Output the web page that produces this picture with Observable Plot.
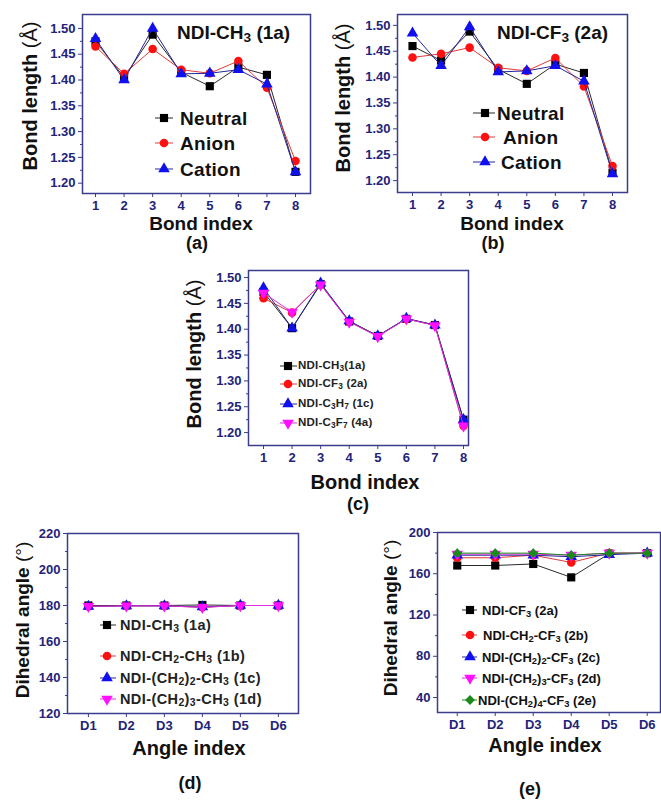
<!DOCTYPE html>
<html>
<head>
<meta charset="utf-8">
<script src="https://cdn.jsdelivr.net/npm/d3@7"></script>
<script src="https://cdn.jsdelivr.net/npm/@observablehq/plot@0.6"></script>
<style>
  html, body { margin: 0; padding: 0; background: #fff; }
  #fig { position: relative; width: 661px; height: 801px; overflow: hidden; background: #fff;
         font-family: "Liberation Sans", Arial, Helvetica, sans-serif; }
  #fig svg { overflow: visible; }
  .txt { position: absolute; white-space: nowrap; line-height: 1; font-weight: bold; color: #111; }
  .txt sub { font-size: 72%; vertical-align: -0.22em; line-height: 0; }
  .thin { font-weight: normal; }
</style>
</head>
<body>
<div id="fig"></div>
<script>
// ---- axes ----
const bondIndex = [1, 2, 3, 4, 5, 6, 7, 8];
const bondLabels = ["1", "2", "3", "4", "5", "6", "7", "8"];
const bondTicks = [1.20, 1.25, 1.30, 1.35, 1.40, 1.45, 1.50];
const bondMinor = [1.225, 1.275, 1.325, 1.375, 1.425, 1.475];
const angleIndex = [1, 2, 3, 4, 5, 6];
const angleLabels = ["D1", "D2", "D3", "D4", "D5", "D6"];
const angleTicksD = [120, 140, 160, 180, 200, 220];
const angleMinorD = [130, 150, 170, 190, 210];
const angleTicksE = [40, 80, 120, 160, 200];
const angleMinorE = [60, 100, 140, 180];

// ---- (a) NDI-CH3 (1a): bond lengths (Å) by charge state ----
const ch3Neutral = [1.475, 1.405, 1.488, 1.415, 1.388, 1.425, 1.410, 1.222];
const ch3Anion   = [1.465, 1.412, 1.460, 1.420, 1.413, 1.437, 1.385, 1.243];
const ch3Cation  = [1.480, 1.400, 1.500, 1.412, 1.413, 1.420, 1.392, 1.222];

// ---- (b) NDI-CF3 (2a): bond lengths (Å) by charge state ----
const cf3Neutral = [1.460, 1.432, 1.488, 1.415, 1.387, 1.425, 1.408, 1.215];
const cf3Anion   = [1.438, 1.445, 1.457, 1.418, 1.412, 1.437, 1.382, 1.228];
const cf3Cation  = [1.485, 1.422, 1.497, 1.410, 1.412, 1.422, 1.392, 1.213];

// ---- (c) neutral bond lengths (Å) for four derivatives ----
const bond1a = [1.472, 1.402, 1.487, 1.415, 1.387, 1.420, 1.408, 1.225];
const bond2a = [1.460, 1.432, 1.487, 1.415, 1.387, 1.420, 1.408, 1.213];
const bond1c = [1.480, 1.402, 1.489, 1.416, 1.387, 1.421, 1.408, 1.225];
const bond4a = [1.470, 1.433, 1.486, 1.414, 1.386, 1.420, 1.407, 1.213];

// ---- (d) dihedral angles (°), alkyl series ----
const dih1a = [180.0, 180.0, 180.0, 180.3, 180.0, 180.0];
const dih1b = [179.5, 179.8, 179.8, 179.0, 180.0, 180.0];
const dih1c = [179.5, 179.8, 179.8, 179.2, 180.0, 180.0];
const dih1d = [179.5, 179.8, 179.8, 179.0, 180.0, 180.0];

// ---- (e) dihedral angles (°), fluoroalkyl series ----
const dih2a = [168.0, 168.0, 169.5, 156.5, 179.5, 180.0];
const dih2b = [175.5, 175.5, 178.0, 171.0, 180.0, 180.0];
const dih2c = [178.0, 178.0, 178.0, 176.5, 178.5, 180.0];
const dih2d = [179.0, 179.0, 179.0, 178.0, 180.0, 180.0];
const dih2e = [180.0, 180.0, 180.0, 178.0, 180.0, 180.0];

// ---- legend labels ----
const chargeNames = ["Neutral", "Anion", "Cation"];
const namesC = ["NDI-CH<sub>3</sub>(1a)", "NDI-CF<sub>3</sub> (2a)", "NDI-C<sub>3</sub>H<sub>7</sub> (1c)", "NDI-C<sub>3</sub>F<sub>7</sub> (4a)"];
const namesD = ["NDI-CH<sub>3</sub> (1a)", "NDI-CH<sub>2</sub>-CH<sub>3</sub> (1b)",
                "NDI-(CH<sub>2</sub>)<sub>2</sub>-CH<sub>3</sub> (1c)", "NDI-(CH<sub>2</sub>)<sub>3</sub>-CH<sub>3</sub> (1d)"];
const namesE = ["NDI-CF<sub>3</sub> (2a)", "NDI-CH<sub>2</sub>-CF<sub>3</sub> (2b)",
                "NDI-(CH<sub>2</sub>)<sub>2</sub>-CF<sub>3</sub> (2c)", "NDI-(CH<sub>2</sub>)<sub>3</sub>-CF<sub>3</sub> (2d)",
                "NDI-(CH<sub>2</sub>)<sub>4</sub>-CF<sub>3</sub> (2e)"];

// ---- styling ----
const navy = "#3c3c8c";
const tickInk = "#23237a";
const triangleDown = {
  draw(context, size) {
    const y = -Math.sqrt(size / (Math.sqrt(3) * 3));
    context.moveTo(0, -y * 2);
    context.lineTo(-Math.sqrt(3) * y, y);
    context.lineTo(Math.sqrt(3) * y, y);
    context.closePath();
  }
};
const sBlack   = {color: "#000000", line: "#2a2a2a", symbol: d3.symbolSquare,   r: 4.6};
const sRed     = {color: "#ff1010", line: "#e03a3a", symbol: d3.symbolCircle,   r: 4.3};
const sBlue    = {color: "#1010ee", line: "#25259a", symbol: d3.symbolTriangle, r: 4.3};
const sMagenta = {color: "#ff10ff", line: "#e030e0", symbol: triangleDown,      r: 4.3};
const sGreen   = {color: "#1a8a1a", line: "#1a8a1a", symbol: d3.symbolDiamond2, r: 4.4};

const fig = document.getElementById("fig");

function panel(p) {
  const [x0, y0, x1, y1] = p.frame;
  const mL = 44, mR = 2, mT = 2, mB = 26;
  const axisText = {color: tickInk, stroke: navy, fontSize: 13, fontWeight: "bold", label: null, tickSize: 4, tickPadding: 3};
  const marks = [
    Plot.axisY({ticks: p.yMinor, tickSize: 2, tickFormat: () => "", label: null, stroke: navy}),
    Plot.axisY({...axisText, ticks: p.yTicks, tickFormat: p.yFormat}),
    Plot.axisX({...axisText, ticks: p.xValues, tickFormat: (d) => p.xLabels[p.xValues.indexOf(d)]})
  ];
  for (const s of p.series) {
    const rows = s.values.map((v, i) => ({x: p.xValues[i], y: v}));
    marks.push(Plot.line(rows, {x: "x", y: "y", stroke: s.style.line, strokeWidth: 1}));
    marks.push(Plot.dot(rows, {x: "x", y: "y", symbol: s.style.symbol, fill: s.style.color, r: s.style.r}));
  }
  marks.push(Plot.frame({stroke: navy, strokeWidth: 1.5}));
  const svg = Plot.plot({
    width: (x1 - x0) + mL + mR,
    height: (y1 - y0) + mT + mB,
    marginLeft: mL, marginRight: mR, marginTop: mT, marginBottom: mB,
    x: {domain: p.xDomain},
    y: {domain: p.yDomain},
    style: {fontFamily: '"Liberation Sans", Arial, sans-serif', background: "transparent", overflow: "visible"},
    marks
  });
  svg.style.position = "absolute";
  svg.style.left = (x0 - mL) + "px";
  svg.style.top = (y0 - mT) + "px";
  svg.style.maxWidth = "none";
  fig.appendChild(svg);
}

function text(html, x, y, {size = 20, anchor = "middle", rotate = false, color = "#111", weight = "bold", spacing = 0} = {}) {
  const div = document.createElement("div");
  div.className = "txt";
  div.innerHTML = html;
  div.style.left = x + "px";
  div.style.top = y + "px";
  div.style.fontSize = size + "px";
  div.style.color = color;
  div.style.fontWeight = weight;
  div.style.letterSpacing = spacing + "px";
  const tx = anchor === "middle" ? "-50%" : anchor === "end" ? "-100%" : "0";
  div.style.transform = `translate(${tx}, -50%)` + (rotate ? " rotate(-90deg)" : "");
  fig.appendChild(div);
}

function legend(items, {x1, x2, mx, size, color = "#111", spacing = 0}) {
  for (const it of items) {
    const w = x2 - x1 + 12;
    const svg = d3.create("svg")
      .attr("width", w).attr("height", 16)
      .style("position", "absolute")
      .style("left", (x1 - 6) + "px")
      .style("top", (it.y - 8) + "px");
    svg.append("line")
      .attr("x1", 6).attr("x2", w - 6).attr("y1", 8).attr("y2", 8)
      .attr("stroke", it.style.line).attr("stroke-width", 1);
    svg.append("path")
      .attr("transform", `translate(${(it.mx ?? mx) - x1 + 6},8)`)
      .attr("d", d3.symbol(it.style.symbol, Math.PI * it.style.r * it.style.r)())
      .attr("fill", it.style.color);
    fig.appendChild(svg.node());
    text(it.label, it.tx, it.y, {size, anchor: "start", color, spacing});
  }
}

// ---- (a) ----
panel({
  frame: [82, 14, 310, 193], xDomain: [0.545, 8.525], yDomain: [1.18, 1.527],
  xValues: bondIndex, xLabels: bondLabels, yTicks: bondTicks, yMinor: bondMinor, yFormat: d3.format(".2f"),
  series: [{values: ch3Neutral, style: sBlack}, {values: ch3Anion, style: sRed}, {values: ch3Cation, style: sBlue}]
});
text("NDI-CH<sub>3</sub> (1a)", 177, 32, {size: 19, anchor: "start"});
legend([
  {label: chargeNames[0], style: sBlack, y: 118, tx: 180},
  {label: chargeNames[1], style: sRed,   y: 143, tx: 180},
  {label: chargeNames[2], style: sBlue,  y: 169, tx: 180}
], {x1: 155, x2: 173, mx: 164, size: 19, spacing: 0.3});
text('Bond length <span class="thin">(Å)</span>', 30, 96, {size: 20, rotate: true});
text("Bond index", 201, 223, {size: 19});
text("(a)", 197, 243, {size: 18});

// ---- (b) ----
panel({
  frame: [397, 14, 627, 192], xDomain: [0.475, 8.525], yDomain: [1.177, 1.521],
  xValues: bondIndex, xLabels: bondLabels, yTicks: bondTicks, yMinor: bondMinor, yFormat: d3.format(".2f"),
  series: [{values: cf3Neutral, style: sBlack}, {values: cf3Anion, style: sRed}, {values: cf3Cation, style: sBlue}]
});
text("NDI-CF<sub>3</sub> (2a)", 497, 32, {size: 19, anchor: "start"});
legend([
  {label: chargeNames[0], style: sBlack, y: 113, tx: 497},
  {label: chargeNames[1], style: sRed,   y: 137, tx: 503},
  {label: chargeNames[2], style: sBlue,  y: 162, tx: 501}
], {x1: 473, x2: 495, mx: 485, size: 19, spacing: 0.3});
text('Bond length <span class="thin">(Å)</span>', 343, 98, {size: 20, rotate: true});
text("Bond index", 512, 223, {size: 19});
text("(b)", 493, 243, {size: 18});

// ---- (c) ----
panel({
  frame: [248, 270, 468, 445], xDomain: [0.475, 8.175], yDomain: [1.175, 1.5136],
  xValues: bondIndex, xLabels: bondLabels, yTicks: bondTicks, yMinor: bondMinor, yFormat: d3.format(".2f"),
  series: [{values: bond1a, style: sBlack}, {values: bond2a, style: sRed}, {values: bond1c, style: sBlue}, {values: bond4a, style: sMagenta}]
});
legend([
  {label: namesC[0], style: sBlack,   y: 366, tx: 298},
  {label: namesC[1], style: sRed,     y: 384, tx: 298},
  {label: namesC[2], style: sBlue,    y: 404, tx: 298},
  {label: namesC[3], style: sMagenta, y: 423, tx: 298}
], {x1: 280, x2: 297, mx: 288, size: 11.5, color: "#222", spacing: 0.2});
text('Bond length <span class="thin">(Å)</span>', 194, 354, {size: 20, rotate: true});
text("Bond index", 365, 482, {size: 20});
text("(c)", 358, 504, {size: 18});

// ---- (d) ----
panel({
  frame: [67, 533, 298, 713], xDomain: [0.45, 6.53], yDomain: [120, 220],
  xValues: angleIndex, xLabels: angleLabels, yTicks: angleTicksD, yMinor: angleMinorD, yFormat: d3.format("d"),
  series: [{values: dih1a, style: sBlack}, {values: dih1b, style: sRed}, {values: dih1c, style: sBlue}, {values: dih1d, style: sMagenta}]
});
legend([
  {label: namesD[0], style: sBlack,   y: 625, tx: 120},
  {label: namesD[1], style: sRed,     y: 656, tx: 120},
  {label: namesD[2], style: sBlue,    y: 678, tx: 120},
  {label: namesD[3], style: sMagenta, y: 699, tx: 120}
], {x1: 100, x2: 116, mx: 107, size: 14.5, color: "#222", spacing: 0.4});
text('Dihedral angle <span class="thin">(°)</span>', 22, 620, {size: 19, rotate: true});
text("Angle index", 189, 748, {size: 20});
text("(d)", 190, 783, {size: 18});

// ---- (e) ----
panel({
  frame: [437, 532, 660, 712], xDomain: [0.48, 6.35], yDomain: [25.5, 200],
  xValues: angleIndex, xLabels: angleLabels, yTicks: angleTicksE, yMinor: angleMinorE, yFormat: d3.format("d"),
  series: [{values: dih2a, style: sBlack}, {values: dih2b, style: sRed}, {values: dih2c, style: sBlue},
           {values: dih2d, style: sMagenta}, {values: dih2e, style: sGreen}]
});
legend([
  {label: namesE[0], style: sBlack,   y: 610, tx: 482},
  {label: namesE[1], style: sRed,     y: 635, tx: 483},
  {label: namesE[2], style: sBlue,    y: 657, tx: 482},
  {label: namesE[3], style: sMagenta, y: 678, tx: 482},
  {label: namesE[4], style: sGreen,   y: 700, tx: 478}
], {x1: 462, x2: 477, mx: 470, size: 13});
text('Dihedral angle <span class="thin">(°)</span>', 390, 618, {size: 19, rotate: true});
text("Angle index", 545, 745, {size: 20});
text("(e)", 530, 789, {size: 18});
</script>
</body>
</html>
